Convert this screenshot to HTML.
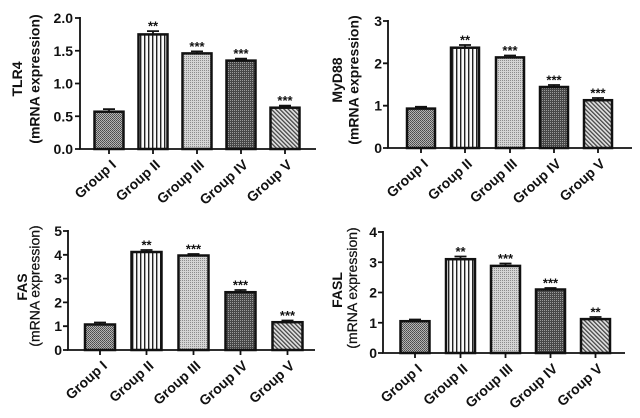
<!DOCTYPE html>
<html><head><meta charset="utf-8"><style>
html,body{margin:0;padding:0;background:#fff;}
svg{display:block;}
text{font-family:"Liberation Sans",Arial,sans-serif;fill:#111;}
.tl{font-size:14px;font-weight:bold;text-anchor:end;}
.gl{font-size:14px;font-weight:bold;text-anchor:end;}
.st{font-size:13px;font-weight:bold;text-anchor:middle;}
.ti{font-size:14px;font-weight:bold;text-anchor:middle;}
.tn{font-size:14px;font-weight:normal;text-anchor:middle;stroke:#111;stroke-width:0.25;}
.ax{stroke:#111;stroke-width:1.8;fill:none;}
.bar{stroke:#111;stroke-width:2.5;}
.eb{stroke:#111;stroke-width:1.8;fill:none;}
</style></head><body>
<svg width="640" height="418" viewBox="0 0 640 418" xmlns="http://www.w3.org/2000/svg">
<defs>
<pattern id="p1" width="2" height="2" patternUnits="userSpaceOnUse">
<rect width="2" height="2" fill="#b4b4b4"/>
<rect x="0" y="0" width="1" height="1" fill="#4a4a4a"/>
<rect x="1" y="1" width="1" height="1" fill="#5a5a5a"/>
</pattern>
<pattern id="p2" width="4" height="4" patternUnits="userSpaceOnUse">
<rect width="4" height="4" fill="#fafafa"/>
<rect x="0" y="0" width="1.4" height="4" fill="#222"/>
</pattern>
<pattern id="p3" width="2" height="2" patternUnits="userSpaceOnUse">
<rect width="2" height="2" fill="#d4d4d4"/>
<rect x="0" y="0" width="1" height="1" fill="#8c8c8c"/>
</pattern>
<pattern id="p4" width="2" height="2" patternUnits="userSpaceOnUse">
<rect width="2" height="2" fill="#474747"/>
<rect x="0" y="0" width="1" height="1" fill="#9a9a9a"/>
</pattern>
<pattern id="p5" width="3" height="3" patternUnits="userSpaceOnUse" patternTransform="rotate(-45)">
<rect width="3" height="3" fill="#e2e2e2"/>
<rect x="0" y="0" width="1.3" height="3" fill="#444"/>
</pattern>
</defs>

<!-- ===== Panel 1: TLR4 ===== -->
<text class="ti" transform="translate(22,79) rotate(-90)">TLR4</text>
<text class="ti" transform="translate(39.5,79) rotate(-90)">(mRNA expression)</text>
<path class="ax" d="M80,17 V149 H316"/>
<path class="ax" d="M75,18 H80 M75,50.75 H80 M75,83.5 H80 M75,116.25 H80 M75,149 H80"/>
<text class="tl" x="73" y="23">2.0</text>
<text class="tl" x="73" y="55.75">1.5</text>
<text class="tl" x="73" y="88.5">1.0</text>
<text class="tl" x="73" y="121.25">0.5</text>
<text class="tl" x="73" y="154">0.0</text>
<path class="ax" d="M109,149 V154 M153,149 V154 M197,149 V154 M241,149 V154 M285,149 V154"/>
<rect class="bar" x="94.5" y="111.7" width="29" height="37.3" fill="url(#p1)"/>
<rect class="bar" x="138.5" y="34.4" width="29" height="114.6" fill="url(#p2)"/>
<rect class="bar" x="182.5" y="53.4" width="29" height="95.6" fill="url(#p3)"/>
<rect class="bar" x="226.5" y="60.6" width="29" height="88.4" fill="url(#p4)"/>
<rect class="bar" x="270.5" y="107.7" width="29" height="41.3" fill="url(#p5)"/>
<path class="eb" d="M109,111.7 V109.1 M103,109.1 H115 M153,34.4 V31.1 M147,31.1 H159 M197,53.4 V51.4 M191,51.4 H203 M241,60.6 V58.6 M235,58.6 H247 M285,107.7 V105.7 M279,105.7 H291"/>
<text class="st" x="153" y="30.5">**</text>
<text class="st" x="197" y="51">***</text>
<text class="st" x="241" y="58">***</text>
<text class="st" x="285" y="105">***</text>
<text class="gl" transform="translate(117,166) rotate(-42)">Group I</text>
<text class="gl" transform="translate(161,166) rotate(-42)">Group II</text>
<text class="gl" transform="translate(205,166) rotate(-42)">Group III</text>
<text class="gl" transform="translate(249,166) rotate(-42)">Group IV</text>
<text class="gl" transform="translate(293,166) rotate(-42)">Group V</text>

<!-- ===== Panel 2: MyD88 ===== -->
<text class="ti" transform="translate(342,80) rotate(-90)">MyD88</text>
<text class="ti" transform="translate(358.5,80) rotate(-90)">(mRNA expression)</text>
<path class="ax" d="M388,20 V148 H632"/>
<path class="ax" d="M383,21 H388 M383,63.3 H388 M383,105.7 H388 M383,148 H388"/>
<text class="tl" x="382" y="26">3</text>
<text class="tl" x="382" y="68.3">2</text>
<text class="tl" x="382" y="110.7">1</text>
<text class="tl" x="382" y="153">0</text>
<path class="ax" d="M421,148 V153 M465,148 V153 M510,148 V153 M554,148 V153 M598,148 V153"/>
<rect class="bar" x="407" y="108.6" width="28" height="39.4" fill="url(#p1)"/>
<rect class="bar" x="451" y="47.7" width="28" height="100.3" fill="url(#p2)"/>
<rect class="bar" x="496" y="57.4" width="28" height="90.6" fill="url(#p3)"/>
<rect class="bar" x="540" y="87" width="28" height="61" fill="url(#p4)"/>
<rect class="bar" x="584" y="100.2" width="28" height="47.8" fill="url(#p5)"/>
<path class="eb" d="M421,108.6 V106.8 M415,106.8 H427 M465,47.7 V45 M459,45 H471 M510,57.4 V55.5 M504,55.5 H516 M554,87 V85 M548,85 H560 M598,100.2 V98 M592,98 H604"/>
<text class="st" x="465" y="44.5">**</text>
<text class="st" x="510" y="55">***</text>
<text class="st" x="554" y="84.5">***</text>
<text class="st" x="598" y="97.5">***</text>
<text class="gl" transform="translate(429,165) rotate(-42)">Group I</text>
<text class="gl" transform="translate(473,165) rotate(-42)">Group II</text>
<text class="gl" transform="translate(518,165) rotate(-42)">Group III</text>
<text class="gl" transform="translate(562,165) rotate(-42)">Group IV</text>
<text class="gl" transform="translate(606,165) rotate(-42)">Group V</text>

<!-- ===== Panel 3: FAS ===== -->
<text class="ti" transform="translate(27,287) rotate(-90)">FAS</text>
<text class="tn" transform="translate(39.5,286) rotate(-90)">(mRNA expression)</text>
<path class="ax" d="M68,230 V350 H315"/>
<path class="ax" d="M63,231 H68 M63,254.8 H68 M63,278.6 H68 M63,302.4 H68 M63,326.2 H68 M63,350 H68"/>
<text class="tl" x="62" y="236">5</text>
<text class="tl" x="62" y="259.8">4</text>
<text class="tl" x="62" y="283.6">3</text>
<text class="tl" x="62" y="307.4">2</text>
<text class="tl" x="62" y="331.2">1</text>
<text class="tl" x="62" y="355">0</text>
<path class="ax" d="M100,350 V355 M146.5,350 V355 M193.5,350 V355 M240.5,350 V355 M287.5,350 V355"/>
<rect class="bar" x="85" y="324.5" width="30" height="25.5" fill="url(#p1)"/>
<rect class="bar" x="131.5" y="252" width="30" height="98" fill="url(#p2)"/>
<rect class="bar" x="178.5" y="255.5" width="30" height="94.5" fill="url(#p3)"/>
<rect class="bar" x="225.5" y="292.2" width="30" height="57.8" fill="url(#p4)"/>
<rect class="bar" x="272.5" y="322.2" width="30" height="27.8" fill="url(#p5)"/>
<path class="eb" d="M100,324.5 V322.5 M94,322.5 H106 M146.5,252 V250 M140.5,250 H152.5 M193.5,255.5 V254 M187.5,254 H199.5 M240.5,292.2 V290 M234.5,290 H246.5 M287.5,322.2 V320.5 M281.5,320.5 H293.5"/>
<text class="st" x="146.5" y="249.5">**</text>
<text class="st" x="193.5" y="253.5">***</text>
<text class="st" x="240.5" y="289.5">***</text>
<text class="st" x="287.5" y="320">***</text>
<text class="gl" transform="translate(108,367) rotate(-42)">Group I</text>
<text class="gl" transform="translate(154.5,367) rotate(-42)">Group II</text>
<text class="gl" transform="translate(201.5,367) rotate(-42)">Group III</text>
<text class="gl" transform="translate(248.5,367) rotate(-42)">Group IV</text>
<text class="gl" transform="translate(295.5,367) rotate(-42)">Group V</text>

<!-- ===== Panel 4: FASL ===== -->
<text class="ti" transform="translate(342,290) rotate(-90)">FASL</text>
<text class="tn" transform="translate(357,288) rotate(-90)">(mRNA expression)</text>
<path class="ax" d="M383,231 V353 H625"/>
<path class="ax" d="M378,232 H383 M378,262.25 H383 M378,292.5 H383 M378,322.75 H383 M378,353 H383"/>
<text class="tl" x="377" y="237">4</text>
<text class="tl" x="377" y="267.25">3</text>
<text class="tl" x="377" y="297.5">2</text>
<text class="tl" x="377" y="327.75">1</text>
<text class="tl" x="377" y="358">0</text>
<path class="ax" d="M415,353 V358 M460.5,353 V358 M505.5,353 V358 M550.5,353 V358 M595.5,353 V358"/>
<rect class="bar" x="400.5" y="321.2" width="29" height="31.8" fill="url(#p1)"/>
<rect class="bar" x="446" y="259.2" width="29" height="93.8" fill="url(#p2)"/>
<rect class="bar" x="491" y="265.9" width="29" height="87.1" fill="url(#p3)"/>
<rect class="bar" x="536" y="289.5" width="29" height="63.5" fill="url(#p4)"/>
<rect class="bar" x="581" y="319.1" width="29" height="33.9" fill="url(#p5)"/>
<path class="eb" d="M415,321.2 V319.5 M409,319.5 H421 M460.5,259.2 V256.5 M454.5,256.5 H466.5 M505.5,265.9 V263.5 M499.5,263.5 H511.5 M550.5,289.5 V288 M544.5,288 H556.5 M595.5,319.1 V317 M589.5,317 H601.5"/>
<text class="st" x="460.5" y="256">**</text>
<text class="st" x="505.5" y="263">***</text>
<text class="st" x="550.5" y="287.5">***</text>
<text class="st" x="595.5" y="316.5">**</text>
<text class="gl" transform="translate(423,370) rotate(-42)">Group I</text>
<text class="gl" transform="translate(468.5,370) rotate(-42)">Group II</text>
<text class="gl" transform="translate(513.5,370) rotate(-42)">Group III</text>
<text class="gl" transform="translate(558.5,370) rotate(-42)">Group IV</text>
<text class="gl" transform="translate(603.5,370) rotate(-42)">Group V</text>
</svg>
</body></html>
